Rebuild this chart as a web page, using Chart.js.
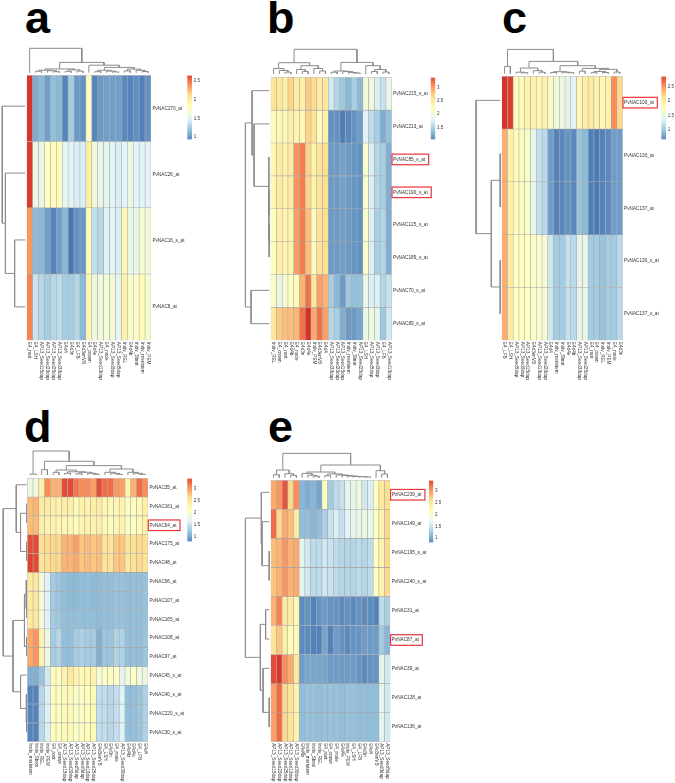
<!DOCTYPE html>
<html>
<head>
<meta charset="utf-8">
<title>PvNAC heatmaps</title>
<script src="https://cdn.jsdelivr.net/npm/chart.js@4/dist/chart.umd.min.js"></script>
<style>
html, body { margin: 0; padding: 0; background: #fff; }
#page { position: relative; width: 675px; height: 783px; overflow: hidden; }
#page canvas { position: absolute; }
.letter { position: absolute; font: bold 45px/1 "Liberation Sans", Arial, sans-serif; color: #000; }
</style>
</head>
<body>
<div id="page"></div>
<script>
// pheatmap default palette, low to high
var ramp = ['#4575b4', '#91bfdb', '#e0f3f8', '#ffffbf', '#fee090', '#fc8d59', '#d73027'];

// panel a
var colsA = ['E4_root','E4_LSH','AP13_Seed15dap','AP13_Seed20dap','AP13_Seed25dap','AP13_Seed30dap','E4d4','E4d3n','E4_LFB','E4d3enVB','E4_crown','E4d4e','AP13_Seed10dap','E4_node','AP13_Seed0dap','AP13_Seed5dap','Indiv_REL','E4d4b','Indiv_Sbrot','Indiv_meristem','Indiv_PEM'];
var rowsA = ['PvNAC170_at','PvNAC26_at','PvNAC16_s_at','PvNAC8_at'];
var valuesA = [
  [2.62,1.15,1.2,1.1,1.22,1.2,1.0,1.3,1.08,1.05,1.75,1.0,1.08,1.1,1.1,1.1,1.02,1.0,1.04,0.98,1.05],
  [2.6,1.6,1.6,1.78,1.8,1.8,1.55,1.52,1.48,1.48,1.95,1.65,1.58,1.55,1.52,1.48,1.52,1.62,1.52,1.52,1.52],
  [2.32,1.2,1.2,1.1,1.0,1.1,1.2,0.95,1.05,1.07,1.8,1.4,1.35,1.5,1.52,1.48,1.88,1.58,1.58,1.7,1.66],
  [2.38,1.42,1.35,1.3,1.35,1.38,1.3,1.3,1.35,1.2,1.85,1.62,1.65,1.68,1.65,1.55,1.92,1.72,1.74,1.82,1.7]
];
var ticksA = [1, 1.5, 2, 2.5];
var rangeA = [0.94, 2.63];
var colTreeA = [24.4,0,[10.3,[3.8,[2.5,[1.5,1,2],[2,3,[1,4,5]]],[2.8,[1.4,6,7],[1.6,8,9]]],[7.5,10,[5.3,[2.4,[1,11,12],[1.6,13,[0.8,14,15]]],[3.6,[1.8,16,17],[2.4,18,[1.2,19,20]]]]]]];
var rowTreeA = [24.3,0,[21,1,[11.3,2,3]]];

// panel b
var colsB = ['Indiv_REL','E4_crown','E4_root','E4d4b','E4_node','E4d3n','E4d4e','Indiv_PEM','E4d3enVB','E4d4','AP13_Seed30dap','AP13_Seed20dap','AP13_Seed15dap','Indiv_meristem','Indiv_Sbrot','AP13_Seed25dap','E4_LSH','AP13_Seed5dap','AP13_Seed0dap','E4_LFB','AP13_Seed10dap'];
var rowsB = ['PvNAC215_s_at','PvNAC213_at','PvNAC85_s_at','PvNAC190_s_at','PvNAC125_s_at','PvNAC189_s_at','PvNAC70_s_at','PvNAC89_s_at'];
var valuesB = [
  [2.55,2.5,2.4,2.65,2.45,2.4,2.7,2.6,2.45,2.5,1.75,1.6,1.5,1.4,1.55,1.4,2.05,2.0,1.8,1.7,1.95],
  [2.25,2.3,2.3,2.4,2.35,2.3,2.65,2.55,2.25,2.4,1.2,1.2,1.1,1.15,1.2,1.25,1.85,1.65,1.55,1.35,1.45],
  [2.3,2.45,2.4,2.45,2.95,3.05,2.65,2.35,2.55,2.6,1.25,1.25,1.28,1.25,1.22,1.2,2.15,1.8,1.6,1.55,1.35],
  [2.3,2.45,2.4,2.45,2.95,3.05,2.65,2.35,2.55,2.6,1.25,1.25,1.28,1.25,1.22,1.2,2.15,1.8,1.6,1.55,1.35],
  [2.2,2.4,2.35,2.35,2.9,3.05,2.75,2.25,2.55,2.6,1.25,1.25,1.27,1.25,1.22,1.2,2.15,1.8,1.55,1.6,1.35],
  [2.2,2.4,2.35,2.35,2.9,3.05,2.75,2.25,2.55,2.6,1.25,1.25,1.27,1.25,1.22,1.2,2.15,1.8,1.55,1.6,1.35],
  [2.15,1.95,2.1,2.2,2.25,2.8,3.1,2.5,2.9,2.8,1.55,1.4,1.25,1.5,1.45,1.45,1.95,1.8,1.8,1.6,1.7],
  [2.5,2.7,2.75,2.75,2.8,3.1,3.37,2.85,3.1,2.9,1.6,1.55,1.35,1.25,1.25,1.3,1.95,2.0,1.9,1.5,1.75]
];
var ticksB = [1.5, 2, 2.5, 3];
var rangeB = [1.05, 3.37];
var colTreeB = [24.7,[11.3,[5.5,0,[3.5,1,[1.8,2,3]]],[8.3,[4.5,4,[2.5,5,6]],[5.5,7,[3,8,9]]]],[11.6,[3,[1.8,10,11],[2.4,12,[1.4,13,[1,14,15]]]],[8.3,16,[4.5,[2.5,17,18],[2,19,20]]]]];
var rowTreeB = [24,[17.3,0,[15.3,1,[0.5,2,[0.4,3,[0.3,4,5]]]]],[18.3,6,7]];
var markedB = ['PvNAC85_s_at','PvNAC190_s_at'];

// panel c
var colsC = ['E4_LFB','E4_LSH','AP13_Seed5dap','AP13_Seed0dap','AP13_Seed15dap','E4d3enVB','AP13_Seed10dap','AP13_Seed20dap','E4d4','Indiv_meristem','Indiv_Sbrot','E4d4e','E4d4b','AP13_Seed30dap','AP13_Seed25dap','E4_root','E4_crown','Indiv_REL','Indiv_PEM','E4_node','E4d3n'];
var rowsC = ['PvNAC100_at','PvNAC130_at','PvNAC137_at','PvNAC130_s_at','PvNAC137_s_at'];
var valuesC = [
  [2.85,2.8,1.75,1.8,1.9,1.9,1.85,1.9,1.7,1.6,1.55,1.45,1.42,1.85,1.95,2.0,1.9,1.85,1.9,2.5,2.15],
  [2.35,1.9,1.8,1.8,1.7,1.5,1.25,1.2,0.85,0.72,0.75,0.8,0.75,1.05,1.0,0.7,0.68,0.72,0.75,0.85,0.85],
  [2.35,1.9,1.8,1.8,1.7,1.5,1.25,1.2,0.85,0.72,0.75,0.8,0.75,1.05,1.0,0.7,0.68,0.72,0.75,0.85,0.85],
  [2.35,2.0,1.75,1.75,1.75,1.7,1.7,1.6,1.3,1.1,1.1,1.25,1.2,1.45,1.5,1.1,1.1,1.05,1.1,1.1,1.2],
  [2.35,2.0,1.75,1.75,1.75,1.7,1.7,1.6,1.3,1.1,1.1,1.25,1.2,1.45,1.5,1.1,1.1,1.05,1.1,1.1,1.2]
];
var ticksC = [1, 1.5, 2, 2.5];
var rangeC = [0.65, 2.86];
var colTreeC = [24.3,[7.3,0,1],[12.3,[5.7,[1.5,2,[1,3,4]],[3,5,[1.5,6,7]]],[8,[2,[1.2,8,9],[1.5,10,[1,11,12]]],[5.3,[2.5,13,14],[4.3,[2.2,[1,15,16],[1.2,17,18]],[1.6,19,20]]]]]];
var rowTreeC = [24.3,0,[9,[0.2,1,2],[0.2,3,4]]];
var markedC = ['PvNAC100_at'];

// panel d
var colsD = ['Indiv_meristem','Indiv_Sbrot','Indiv_REL','Indiv_PEM','E4_root','E4_crown','AP13_Seed15dap','AP13_Seed20dap','AP13_Seed5dap','AP13_Seed0dap','AP13_Seed10dap','AP13_Seed25dap','E4d3enVB','E4_LSH','E4d3n','E4_node','AP13_Seed30dap','E4d4b','E4d4e','E4_LFB','E4d4'];
var rowsD = ['PvNAC35_at','PvNAC161_at','PvNAC64_at','PvNAC175_at','PvNAC48_at','PvNAC96_at','PvNAC107_at','PvNAC165_at','PvNAC108_at','PvNAC97_at','PvNAC45_s_at','PvNAC40_s_at','PvNAC220_s_at','PvNAC30_s_at'];
var valuesD = [
  [1.85,1.9,2.3,3.0,2.8,2.8,3.3,3.3,3.1,3.0,3.0,2.9,3.3,3.15,3.15,2.95,2.9,2.3,2.8,3.15,3.0],
  [2.75,2.8,2.4,2.4,2.35,2.3,2.35,2.35,2.2,2.3,2.3,2.35,2.4,2.25,2.2,2.25,2.3,2.05,2.15,2.2,2.35],
  [2.75,2.75,2.35,2.3,2.3,2.25,2.25,2.25,2.15,2.25,2.3,2.3,2.35,2.2,2.15,2.25,2.3,2.05,2.1,2.2,2.3],
  [3.3,3.3,2.55,2.6,2.6,2.6,2.8,2.8,2.9,2.7,2.75,2.7,2.75,2.5,2.5,2.7,2.7,2.5,2.55,2.6,2.55],
  [3.35,3.3,2.5,2.55,2.6,2.6,2.8,2.8,2.85,2.7,2.75,2.7,2.75,2.5,2.5,2.7,2.7,2.45,2.55,2.6,2.5],
  [2.4,2.45,1.95,1.7,1.35,1.3,1.25,1.22,1.22,1.25,1.25,1.22,1.22,1.25,1.25,1.28,1.28,1.25,1.25,1.25,1.27],
  [2.4,2.45,1.95,1.7,1.35,1.3,1.25,1.22,1.22,1.25,1.25,1.22,1.22,1.25,1.25,1.28,1.28,1.25,1.25,1.25,1.27],
  [2.4,2.45,1.95,1.7,1.35,1.32,1.25,1.25,1.25,1.25,1.25,1.25,1.22,1.25,1.25,1.28,1.28,1.25,1.25,1.25,1.27],
  [2.85,2.95,2.3,1.85,1.35,1.45,1.25,1.25,1.35,1.4,1.35,1.35,1.15,1.3,1.3,1.4,1.4,1.25,1.25,1.25,1.3],
  [2.85,2.95,2.3,1.85,1.35,1.4,1.25,1.25,1.35,1.4,1.35,1.35,1.15,1.3,1.3,1.4,1.4,1.25,1.25,1.25,1.3],
  [1.15,1.15,1.3,1.6,2.15,2.15,2.3,2.45,2.3,2.2,2.25,2.3,2.0,2.05,2.1,2.1,1.72,1.9,2.1,1.9,1.85],
  [0.9,0.9,1.45,1.65,2.1,2.15,2.2,2.2,2.05,2.1,2.15,2.2,1.5,1.5,1.45,1.5,1.68,1.25,1.25,1.3,1.4],
  [0.9,0.9,1.45,1.65,2.1,2.15,2.2,2.2,2.05,2.1,2.15,2.2,1.5,1.5,1.45,1.5,1.68,1.25,1.25,1.3,1.4],
  [0.9,0.9,1.45,1.65,2.1,2.15,2.2,2.2,2.05,2.1,2.15,2.2,1.5,1.5,1.45,1.5,1.68,1.25,1.25,1.3,1.4]
];
var ticksD = [1, 1.5, 2, 2.5, 3];
var rangeD = [0.81, 3.43];
var colTreeD = [24.3,[1.3,0,1],[14,[5.7,2,3],[9.7,[5.3,[3,4,5],[3.5,[2,6,7],[3,[1.5,8,9],[2,10,[1,11,12]]]]],[6.3,[3,13,[2,14,[1,15,16]]],[3,17,[2,18,[1,19,20]]]]]]];
var rowTreeD = [24,[10.7,0,[6.3,[0.2,1,2],[0.2,3,4]]],[14,[2.3,[0.6,5,[0.3,6,7]],[0.3,8,9]],[6.3,10,[0.4,11,[0.3,12,13]]]]];
var markedD = ['PvNAC64_at'];

// panel e
var colsE = ['AP13_Seed15dap','AP13_Seed20dap','AP13_Seed25dap','AP13_Seed10dap','AP13_Seed30dap','E4d4b','Indiv_meristem','Indiv_Sbrot','Indiv_REL','E4_root','E4_crown','E4_node','E4d4e','Indiv_PEM','E4_LSH','E4_LFB','E4d3n','E4d4','E4d3enVB','AP13_Seed0dap','AP13_Seed5dap'];
var rowsE = ['PvNAC239_at','PvNAC149_at','PvNAC195_s_at','PvNAC240_s_at','PvNAC31_at','PvNAC87_at','PvNAC39_at','PvNAC128_at','PvNAC136_at'];
var valuesE = [
  [2.85,2.95,3.25,2.6,3.0,1.2,1.15,1.2,1.1,2.1,1.35,1.5,1.55,1.75,1.8,1.9,1.6,1.65,2.15,2.45,2.55],
  [3.15,2.6,2.85,2.75,2.4,1.25,1.25,1.2,1.25,1.4,1.55,1.65,1.55,1.7,1.8,1.8,1.85,1.8,2.1,2.3,2.6],
  [2.75,2.8,2.95,2.8,2.85,1.75,1.6,1.5,1.5,1.6,1.55,1.5,1.45,1.45,1.45,1.5,1.45,1.5,2.1,2.3,2.6],
  [2.7,2.8,2.95,2.8,2.85,1.75,1.6,1.5,1.5,1.6,1.55,1.5,1.45,1.45,1.45,1.5,1.45,1.5,2.1,2.3,2.6],
  [2.8,3.05,2.45,2.4,2.2,0.95,1.0,0.9,1.0,1.05,1.0,1.0,0.95,1.0,0.95,1.0,0.95,0.95,0.9,1.5,1.4],
  [2.5,2.7,2.35,2.15,2.2,0.95,0.95,0.9,0.9,1.1,0.9,1.05,1.0,0.95,1.0,1.0,1.05,1.05,1.05,1.35,1.2],
  [3.3,3.4,3.0,2.85,2.45,1.05,1.1,1.1,1.1,1.1,1.05,1.05,1.05,1.05,1.05,1.0,0.95,1.0,1.0,1.75,1.6],
  [2.9,3.15,2.6,2.5,2.3,1.25,1.28,1.28,1.25,1.28,1.28,1.28,1.25,1.28,1.28,1.25,1.25,1.25,1.25,1.75,1.6],
  [2.9,3.15,2.6,2.5,2.3,1.25,1.28,1.28,1.25,1.28,1.28,1.28,1.25,1.28,1.28,1.25,1.25,1.25,1.25,1.75,1.6]
];
var ticksE = [1, 1.5, 2, 2.5, 3];
var rangeE = [0.82, 3.43];
var colTreeE = [24.3,[7.7,[3,0,1],[4,2,[2.5,3,4]]],[12.7,[5.7,[4.3,5,[2.5,6,[1.5,7,8]]],[3.8,[2,9,10],[2.8,11,[2.2,12,[1.6,13,[1.2,14,[1,15,[0.8,16,17]]]]]]]],[7,18,[3.7,19,20]]]];
var rowTreeE = [24,[8,0,[7.3,1,[0.2,2,3]]],[9,[3.7,4,5],[6.3,6,[0.2,7,8]]]];
var markedE = ['PvNAC239_at','PvNAC87_at'];

Chart.defaults.font.family = '"Liberation Sans", Arial, sans-serif';
Chart.defaults.animation = false;
Chart.defaults.responsive = false;
Chart.defaults.plugins.legend.display = false;
Chart.defaults.plugins.tooltip.enabled = false;

var labelFont = '4.7px "Liberation Sans", Arial, sans-serif';
var labelColor = '#333';
var lineColor = '#8c8c8c';
var gridColor = 'rgba(153,153,153,0.75)';

function addCanvas(left, top, w, h) {
    var c = document.createElement('canvas');
    c.width = w;
    c.height = h;
    c.style.left = left + 'px';
    c.style.top = top + 'px';
    document.getElementById('page').appendChild(c);
    return c.getContext('2d');
}

function hex(c) {
    return [parseInt(c.substr(1, 2), 16), parseInt(c.substr(3, 2), 16), parseInt(c.substr(5, 2), 16)];
}

function colorFor(v, range) {
    var t = Math.min(1, Math.max(0, (v - range[0]) / (range[1] - range[0]))) * (ramp.length - 1);
    var i = Math.min(ramp.length - 2, Math.floor(t));
    var a = hex(ramp[i]), b = hex(ramp[i + 1]), f = t - i;
    return 'rgb(' + Math.round(a[0] + (b[0] - a[0]) * f) + ',' + Math.round(a[1] + (b[1] - a[1]) * f) + ',' + Math.round(a[2] + (b[2] - a[2]) * f) + ')';
}

// walks a nested [height, left, right] tree, leaves are row or column indexes
function walkTree(node, segs) {
    if (typeof node === 'number') return { pos: node, h: 0 };
    var l = walkTree(node[1], segs), r = walkTree(node[2], segs);
    segs.push([[l.pos, l.h], [l.pos, node[0]], [r.pos, node[0]], [r.pos, r.h]]);
    return { pos: (l.pos + r.pos) / 2, h: node[0] };
}

function dendroPlot(tree, n, box, horizontal) {
    var segs = [];
    walkTree(tree, segs);
    var datasets = segs.map(function (s) {
        return {
            data: s.map(function (p) { return horizontal ? { x: p[0], y: p[1] } : { x: p[1], y: p[0] }; }),
            showLine: true, pointRadius: 0, borderColor: lineColor, borderWidth: 1, clip: false
        };
    });
    var left, top, w, h, padding, x, y;
    if (horizontal) {
        left = Math.floor(box.x0); w = Math.ceil(box.x1) - left;
        h = 30; top = Math.round(box.y0) - h;
        padding = { left: box.x0 - left, right: w - (box.x1 - left), top: 0, bottom: 0 };
        x = { type: 'linear', display: false, min: -0.5, max: n - 0.5 };
        y = { type: 'linear', display: false, min: box.y0 - Math.round(box.y0), max: h + box.y0 - Math.round(box.y0) };
    } else {
        top = Math.floor(box.y0); h = Math.ceil(box.y1) - top;
        w = Math.floor(box.x0); left = 0;
        padding = { top: box.y0 - top, bottom: h - (box.y1 - top), left: 0, right: 0 };
        x = { type: 'linear', display: false, reverse: true, min: w - box.x0, max: box.x0 };
        y = { type: 'linear', display: false, reverse: true, min: -0.5, max: n - 0.5 };
    }
    return new Chart(addCanvas(left, top, w, h), {
        type: 'scatter',
        data: { datasets: datasets },
        options: { layout: { padding: padding }, scales: { x: x, y: y } }
    });
}

function heatmapPlot(cols, rows, values, range, marked, box) {
    var left = Math.floor(box.x0) - 1, top = Math.floor(box.y0) - 1;
    var w = Math.min(675 - left, Math.ceil(box.x1) - left + 46);
    var h = Math.ceil(box.y1) - top + 42;
    var axisWidth = w - (box.x1 - left);
    var marks = {
        id: 'marks',
        afterDraw: function (chart) {
            var c = chart.ctx, x = chart.scales.x, y = chart.scales.y, area = chart.chartArea;
            c.save();
            c.font = labelFont;
            // column names read downwards under the cells
            cols.forEach(function (name, i) {
                c.save();
                c.translate(x.getPixelForValue(i), area.bottom + 1.5);
                c.rotate(Math.PI / 2);
                c.fillStyle = labelColor;
                c.textAlign = 'left';
                c.textBaseline = 'middle';
                c.fillText(name, 0, 0);
                c.restore();
            });
            (marked || []).forEach(function (name) {
                var yy = y.getPixelForValue(rows.indexOf(name) + 0.5);
                c.strokeStyle = '#e8353f';
                c.lineWidth = 1.2;
                c.strokeRect(area.right + 0.3, yy - 5.3, c.measureText(name).width + 4.6, 10.6);
            });
            c.restore();
        }
    };
    return new Chart(addCanvas(left, top, w, h), {
        type: 'bar',
        data: {
            labels: cols,
            datasets: rows.map(function (name, i) {
                return {
                    label: name,
                    data: cols.map(function () { return [i, i + 1]; }),
                    backgroundColor: values[i].map(function (v) { return colorFor(v, range); }),
                    borderColor: gridColor,
                    borderWidth: 0.6,
                    borderSkipped: false,
                    grouped: false,
                    barPercentage: 1,
                    categoryPercentage: 1
                };
            })
        },
        options: {
            layout: { padding: { left: box.x0 - left, top: box.y0 - top, bottom: h - (box.y1 - top), right: 0 } },
            scales: {
                x: { display: false },
                y: {
                    position: 'right', reverse: true, min: 0, max: rows.length,
                    grid: { display: false, drawTicks: false }, border: { display: false },
                    afterFit: function (s) { s.width = axisWidth; },
                    afterBuildTicks: function (s) {
                        s.ticks = rows.map(function (r, i) { return { value: i + 0.5 }; });
                    },
                    ticks: {
                        autoSkip: false, padding: 1.4, color: labelColor,
                        font: { size: 4.7 },
                        callback: function (v) { return rows[v - 0.5]; }
                    }
                }
            }
        },
        plugins: [marks]
    });
}

function legendPlot(ticks, range, box) {
    var left = Math.floor(box.x0), top = Math.floor(box.y0) - 1;
    var w = Math.min(675 - left, 24), h = Math.ceil(box.y1) - top + 1;
    var ctx = addCanvas(left, top, w, h);
    var grad = ctx.createLinearGradient(0, box.y1 - top, 0, box.y0 - top);
    ramp.forEach(function (c, i) { grad.addColorStop(i / (ramp.length - 1), c); });
    return new Chart(ctx, {
        type: 'bar',
        data: { labels: ['scale'], datasets: [{ data: [range], backgroundColor: grad, barPercentage: 1, categoryPercentage: 1, borderSkipped: false }] },
        options: {
            layout: { padding: { left: box.x0 - left, top: box.y0 - top, bottom: h - (box.y1 - top), right: 0 } },
            scales: {
                x: { display: false },
                y: {
                    position: 'right', min: range[0], max: range[1],
                    grid: { display: false, drawTicks: false }, border: { display: false },
                    afterFit: function (s) { s.width = w - (box.x1 - left); },
                    afterBuildTicks: function (s) {
                        s.ticks = ticks.map(function (t) { return { value: t }; });
                    },
                    ticks: {
                        autoSkip: false, padding: 1.8, color: labelColor, font: { size: 4.5 },
                        callback: function (v) { return String(v); }
                    }
                }
            }
        }
    });
}

function addLetter(text, left, baseline) {
    var d = document.createElement('div');
    d.className = 'letter';
    d.textContent = text;
    d.style.left = left + 'px';
    d.style.top = (baseline - 45 * 0.8465) + 'px';
    document.getElementById('page').appendChild(d);
}

function panel(letter, cols, rows, values, range, ticks, colTree, rowTree, marked, box, bar) {
    addLetter(letter.text, letter.x, letter.y);
    dendroPlot(colTree, cols.length, box, true);
    dendroPlot(rowTree, rows.length, box, false);
    heatmapPlot(cols, rows, values, range, marked, box);
    legendPlot(ticks, range, bar);
}

panel({ text: 'a', x: 25, y: 33 }, colsA, rowsA, valuesA, rangeA, ticksA, colTreeA, rowTreeA, null,
    { x0: 26.7, x1: 151, y0: 72.7, y1: 340.3 }, { x0: 187.3, x1: 192, y0: 72.7, y1: 142.3 });
panel({ text: 'b', x: 267, y: 33 }, colsB, rowsB, valuesB, rangeB, ticksB, colTreeB, rowTreeB, markedB,
    { x0: 270.7, x1: 391.7, y0: 74, y1: 340.3 }, { x0: 430.7, x1: 435.3, y0: 74, y1: 142.7 });
panel({ text: 'c', x: 502, y: 33 }, colsC, rowsC, valuesC, rangeC, ticksC, colTreeC, rowTreeC, markedC,
    { x0: 501.7, x1: 622.7, y0: 73.7, y1: 340.3 }, { x0: 661.3, x1: 666, y0: 73.7, y1: 143 });
panel({ text: 'd', x: 24, y: 441.7 }, colsD, rowsD, valuesD, rangeD, ticksD, colTreeD, rowTreeD, markedD,
    { x0: 27.3, x1: 148, y0: 475.3, y1: 741.7 }, { x0: 187.3, x1: 192, y0: 475.3, y1: 544.3 });
panel({ text: 'e', x: 268, y: 441.7 }, colsE, rowsE, valuesE, rangeE, ticksE, colTreeE, rowTreeE, markedE,
    { x0: 270.7, x1: 390.3, y0: 477.7, y1: 741.7 }, { x0: 429, x1: 433.3, y0: 477.7, y1: 546 });
</script>
</body>
</html>
